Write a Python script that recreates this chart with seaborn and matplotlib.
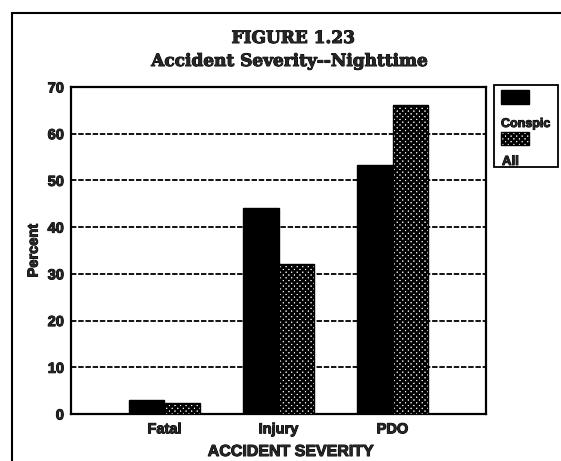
import matplotlib
matplotlib.use("Agg")
import matplotlib.pyplot as plt
import matplotlib.patheffects as pe
from matplotlib.patches import Rectangle
import seaborn as sns
import pandas as pd

# Data
severity = ["Fatal", "Injury", "PDO"]
conspic = [3.0, 44.2, 53.2]
all_vehicles = [2.4, 32.2, 66.1]
series_names = ["Conspic", "All"]
y_ticks = [0, 10, 20, 30, 40, 50, 60, 70]

df = pd.DataFrame({
    "severity": severity * 2,
    "group": [series_names[0]] * 3 + [series_names[1]] * 3,
    "percent": conspic + all_vehicles,
})

sns.set_theme(style="white")
plt.rcParams["hatch.linewidth"] = 1.8
plt.rcParams["hatch.color"] = "black"
sans = ["Liberation Sans", "DejaVu Sans"]
serif = ["DejaVu Serif"]
PATTERN = "xxxxxx"
heavy = [pe.withStroke(linewidth=0.7, foreground="black")]

W, H = 561, 461
fig = plt.figure(figsize=(W / 100, H / 100), dpi=100)
fig.patch.set_facecolor("white")

def fx(px):
    return px / W

def fy(py):
    return 1 - py / H

ax = fig.add_axes([fx(71), fy(414), fx(486) - fx(71), fy(87) - fy(414)])

sns.barplot(data=df, x="severity", y="percent", hue="group", order=severity,
            hue_order=series_names, palette=["black", "white"], width=0.63,
            saturation=1, edgecolor="black", linewidth=1.0, legend=False, ax=ax, zorder=3)

for bar in ax.containers[1]:
    bar.set_hatch(PATTERN)
    bar.set_facecolor("white")
    bar.set_edgecolor("black")

ax.set_xlim(-0.82, 2.82)
ax.set_ylim(0, 70)
ax.set_yticks(y_ticks)
ax.set_yticklabels([str(t) for t in y_ticks], family=sans, fontweight="bold", fontsize=10.5)
ax.set_xticks([0, 1, 2])
ax.set_xticklabels(severity, family=sans, fontweight="bold", fontsize=10.5)
ax.set_xticks([0.5, 1.5], minor=True)
ax.tick_params(axis="x", which="major", length=0, pad=6)
ax.tick_params(axis="x", which="minor", length=3, width=1.2, direction="out", color="black")
ax.tick_params(axis="y", which="major", length=4, width=1.2, direction="out", color="black", pad=1)
for lbl in ax.get_xticklabels() + ax.get_yticklabels():
    lbl.set_path_effects(heavy)

ax.yaxis.grid(True, color="black", linestyle=(0, (3, 1)), linewidth=1.3, zorder=0)
ax.set_axisbelow(True)

for side in ["left", "right", "top", "bottom"]:
    ax.spines[side].set_visible(True)
    ax.spines[side].set_color("black")
    ax.spines[side].set_linewidth(1.6)

ax.set_xlabel("ACCIDENT SEVERITY", family=sans, fontweight="bold", fontsize=11.5,
              path_effects=heavy)
ax.xaxis.label.set_va("baseline")
ax.xaxis.set_label_coords((291 - 71) / 415, -(456 - 414) / 327)
ax.set_ylabel("Percent", family=sans, fontweight="bold", fontsize=10.5, labelpad=5,
              path_effects=heavy)

# Titles
fig.text(fx(293), fy(43), "FIGURE 1.23", ha="center", va="baseline",
         family=serif, fontweight="bold", fontsize=12.2, path_effects=heavy)
fig.text(fx(289), fy(66), "Accident Severity--Nighttime", ha="center", va="baseline",
         family=serif, fontweight="bold", fontsize=12.2, path_effects=heavy)

# Outer frame
fig.add_artist(Rectangle((fx(12), fy(470)), fx(570) - fx(12), fy(13) - fy(470),
                         transform=fig.transFigure, fill=False, edgecolor="black",
                         linewidth=1.5, clip_on=False))

# Legend box
fig.add_artist(Rectangle((fx(494), fy(167)), fx(558) - fx(494), fy(85) - fy(167),
                         transform=fig.transFigure, fill=False, edgecolor="black",
                         linewidth=1.3))
fig.add_artist(Rectangle((fx(501), fy(104)), fx(529) - fx(501), fy(90) - fy(104),
                         transform=fig.transFigure, facecolor="black", edgecolor="black",
                         linewidth=1.0))
fig.text(fx(501), fy(127), series_names[0], ha="left", va="baseline",
         family=sans, fontweight="bold", fontsize=9.0, path_effects=heavy)
fig.add_artist(Rectangle((fx(501), fy(145)), fx(529) - fx(501), fy(132) - fy(145),
                         transform=fig.transFigure, facecolor="white", edgecolor="black",
                         hatch=PATTERN, linewidth=1.0))
fig.text(fx(502), fy(165), series_names[1], ha="left", va="baseline",
         family=sans, fontweight="bold", fontsize=9.5, path_effects=heavy)

fig.savefig("out.png", dpi=100, facecolor="white")
